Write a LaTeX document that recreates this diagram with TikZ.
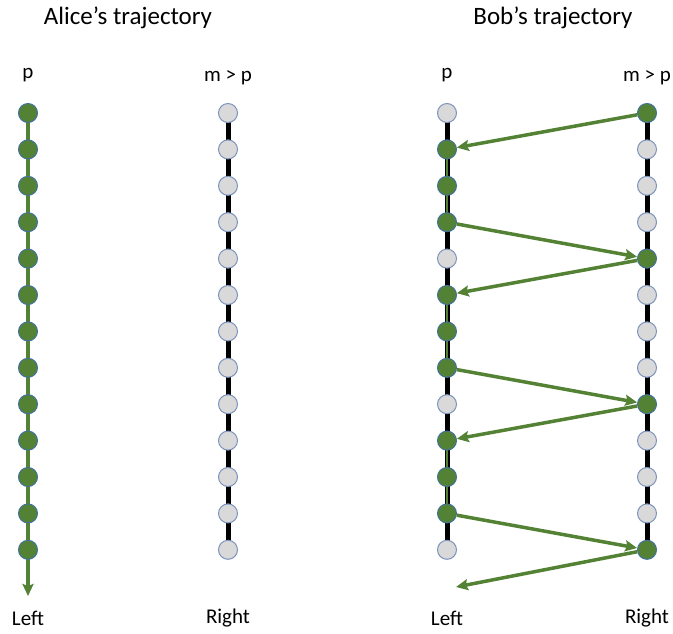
\documentclass[tikz,border=0pt]{standalone}
\usepackage{fontspec}
\setmainfont{Carlito}
\usetikzlibrary{arrows.meta,backgrounds}
\definecolor{leaf}{HTML}{548235}
\definecolor{pale}{HTML}{D9D9D9}
\definecolor{rim}{HTML}{7C93BD}
\definecolor{deeprim}{HTML}{41719C}
\tikzstyle{arrow} = [leaf,line width=3.5pt,-{Stealth[length=12pt,width=11pt,inset=2pt]}]
\tikzstyle{dot} = [circle,draw=rim,line width=1pt,fill=pale,minimum size=19pt,inner sep=0pt]
\tikzstyle{hit} = [dot,draw=deeprim,fill=leaf]
\tikzstyle{rail} = [line width=5pt]
\tikzstyle{title} = [font=\fontsize{25}{30}\selectfont]
\tikzstyle{lab} = [font=\fontsize{21}{25}\selectfont]

\begin{document}
\begin{tikzpicture}[x=1pt,y=-1pt]
  \useasboundingbox (0,0) rectangle (673,633);
  % titles and labels
  \node[title] (ta) at (128,18) {Alice’s trajectory};
  \node[title] (tb) at (553,18) {Bob’s trajectory};
  \node[lab] (pa) at (28,75) {p};
  \node[lab] (ma) at (228,78) {m > p};
  \node[lab] (pb) at (447,75) {p};
  \node[lab] (mb) at (647,78) {m > p};
  \node[lab] (la) at (28,618) {Left};
  \node[lab] (ra) at (228,618) {Right};
  \node[lab] (lb) at (447,618) {Left};
  \node[lab] (rb) at (647,618) {Right};
  % dots
  \foreach \i in {0,...,12} {
    \pgfmathtruncatemacro\k{mod(\i,4)}
    \node[hit] (AL\i) at (28,113+36.4*\i) {};
    \node[dot] (AR\i) at (228,113+36.4*\i) {};
    \ifnum\k=0
      \node[dot] (BL\i) at (447,113+36.4*\i) {};
      \node[hit] (BR\i) at (647,113+36.4*\i) {};
    \else
      \node[hit] (BL\i) at (447,113+36.4*\i) {};
      \node[dot] (BR\i) at (647,113+36.4*\i) {};
    \fi
  }
  \coordinate (aend) at (28,596);
  \coordinate (bend) at (456,587);
  % rails behind the dots
  \begin{scope}[on background layer]
    \draw[rail] (AR0.center) -- (AR12.center);
    \draw[rail] (BL0.center) -- (BL12.center);
    \draw[rail] (BR0.center) -- (BR12.center);
    \draw[arrow,line width=4pt] (AL0.center) -- (aend);
    \foreach \a/\b in {1/3,5/7,9/11}
      \draw[leaf,line width=2pt,xshift=1.5pt] (BL\a.center) -- (BL\b.center);
  \end{scope}
  % Bob's jumps
  \draw[arrow] (BR0) -- (BL1);
  \draw[arrow] (BL3) -- (BR4);
  \draw[arrow] (BR4) -- (BL5);
  \draw[arrow] (BL7) -- (BR8);
  \draw[arrow] (BR8) -- (BL9);
  \draw[arrow] (BL11) -- (BR12);
  \draw[arrow] (BR12) -- (bend);
\end{tikzpicture}
\end{document}
